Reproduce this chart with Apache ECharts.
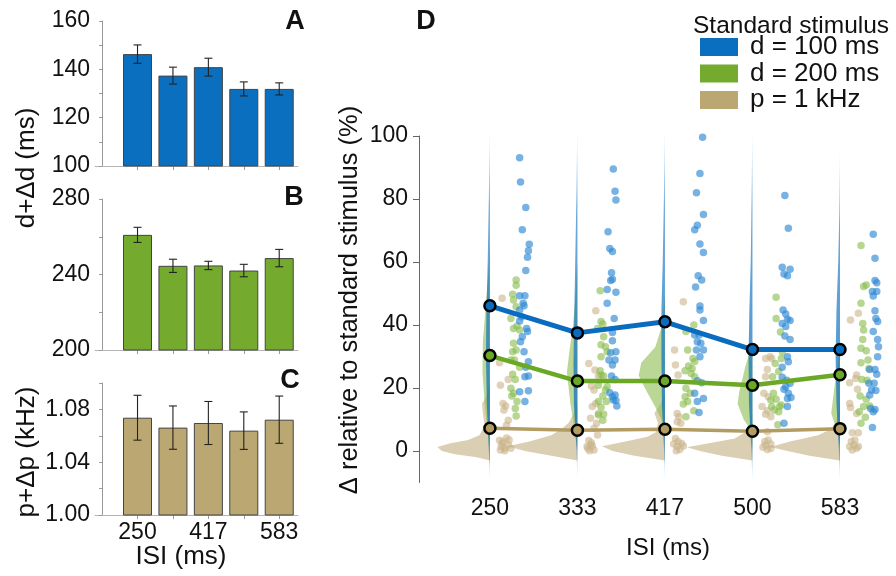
<!DOCTYPE html>
<html>
<head>
    <meta charset="utf-8">
    <title>ISI</title>
    <script src="https://cdn.jsdelivr.net/npm/echarts@6/dist/echarts.min.js"></script>
    <style>
        *{margin:0;padding:0}
        #main { width: 896px; height: 576px; background: #fff; }
    </style>
</head>
<body>
<div id="main"></div>
<script type="text/javascript">
    // ISI conditions
    var isi = ['250', '333', '417', '500', '583'];
    var pos = [1, 2, 3, 4, 5];

    // panels A-C: mean +/- error
    var durA = [146.3, 137.4, 140.9, 131.9, 131.9];
    var errA = [3.8, 3.5, 3.7, 2.9, 2.5];
    var durB = [261.0, 244.6, 244.8, 242.1, 248.7];
    var errB = [4.0, 3.5, 2.2, 3.3, 4.6];
    var pitchC = [1.0737, 1.0662, 1.0697, 1.0639, 1.0722];
    var errC = [0.017, 0.0164, 0.0163, 0.0142, 0.0179];

    // panel D: means (%)
    var meanBlue = [46.1, 37.5, 41.0, 32.2, 32.2];
    var meanGreen = [30.3, 22.2, 22.2, 20.9, 24.2];
    var meanTan = [7.2, 6.6, 6.9, 6.3, 7.1];

    // half-violin profiles [value, half width] per ISI
    var violinBlue = [
        [[-10,0],[0,0.012],[15,0.035],[30,0.045],[45,0.04],[60,0.025],[80,0.012],[100,0.004]],
        [[-10,0],[0,0.01],[15,0.04],[28,0.045],[45,0.035],[60,0.025],[80,0.012],[100,0.004]],
        [[-10,0],[0,0.01],[15,0.035],[30,0.04],[45,0.04],[60,0.025],[80,0.012],[100,0.004]],
        [[-10,0],[0,0.012],[15,0.04],[30,0.045],[45,0.035],[60,0.02],[80,0.01],[100,0.003]],
        [[-10,0],[0,0.012],[15,0.04],[30,0.05],[45,0.04],[60,0.02],[75,0.008],[95,0.002]]
    ];
    var violinGreen = [
        [[-5,0],[5,0.02],[15,0.06],[25,0.085],[35,0.08],[45,0.05],[55,0.02],[65,0]],
        [[0,0],[8,0.04],[15,0.08],[25,0.12],[32,0.09],[40,0.05],[50,0.02],[60,0]],
        [[5,0],[10,0.04],[14,0.11],[19,0.21],[24,0.3],[28,0.27],[33,0.11],[40,0.03],[50,0]],
        [[0,0],[6.7,0.02],[10,0.1],[15,0.17],[19,0.15],[27,0.08],[34,0]],
        [[2,0],[6.7,0.04],[12,0.1],[21,0.06],[33,0]]
    ];
    var violinTan = [
        [[-3,0],[-2,0.15],[-1,0.4],[0,0.55],[1.3,0.6],[2.5,0.45],[3.5,0.25],[5,0.12],[8,0.06],[12,0.08],[15,0.09],[18,0.03],[22,0]],
        [[-3,0],[-1.5,0.3],[0,0.6],[1.5,0.8],[3,0.55],[5,0.3],[7,0.18],[9,0.1],[12,0.04],[15,0]],
        [[-3,0],[-1.5,0.35],[0,0.6],[1.5,0.72],[3,0.45],[4.5,0.2],[6,0.1],[9,0.08],[12,0.12],[15,0.05],[18,0]],
        [[-3,0],[-1.5,0.35],[0,0.6],[1.2,0.75],[2.5,0.5],[4,0.2],[6,0.08],[9,0.03],[12,0]],
        [[-3,0],[-1.5,0.35],[0,0.6],[1.3,0.8],[3,0.57],[5,0.25],[7,0.1],[9,0.05],[12,0.02],[15,0]]
    ];

    // individual subjects [jitter, value] per ISI
    var ptsBlue = [
        [[.34,93.1],[.35,85.4],[.41,77.3],[.37,70.2],[.45,65.6],[.44,63.6],[.43,61.5],[.41,57.3],[.34,49.3],[.40,49.3],[.38,46.9],[.39,46.1],[.34,44.8],[.36,42.6],[.34,41.3],[.42,38.9],[.43,37.9],[.37,36.3],[.35,34.7],[.39,31.5],[.44,28.3],[.41,26.6],[.44,23.8],[.40,23.6],[.34,18.8],[.44,19.1],[.40,15.7]],
        [[.41,89.5],[.43,82.5],[.44,79.7],[.35,69.6],[.37,64.3],[.40,63.3],[.39,56.6],[.38,54.1],[.40,54.5],[.34,51.3],[.44,50.4],[.34,46.9],[.42,42.1],[.40,37.6],[.40,35.0],[.44,31.5],[.38,31.2],[.43,28.9],[.36,28.9],[.40,27.3],[.39,23.8],[.43,22.7],[.37,18.5],[.43,17.8],[.41,16.2],[.44,16.0],[.45,14.3],[.40,17.2]],
        [[.43,99.6],[.40,88.1],[.36,82.0],[.44,75.1],[.37,71.7],[.34,70.2],[.40,65.7],[.44,63.0],[.38,55.6],[.42,54.3],[.35,52.1],[.40,46.0],[.40,44.8],[.44,41.4],[.34,36.8],[.39,36.8],[.37,34.7],[.41,34.2],[.44,32.1],[.36,32.1],[.40,29.9],[.37,22.3],[.42,21.7],[.34,18.3],[.44,16.7],[.37,15.7],[.39,12.2]],
        [[.37,81.1],[.41,70.7],[.34,58.3],[.43,57.7],[.36,56.2],[.40,55.6],[.35,44.8],[.38,43.5],[.40,41.8],[.43,41.4],[.34,40.5],[.38,39.5],[.37,36.5],[.43,35.4],[.40,29.9],[.41,28.3],[.34,23.4],[.39,22.5],[.43,21.5],[.36,19.6],[.41,18.3],[.44,17.0],[.40,14.1],[.36,8.8],[.34,26.6],[.38,20.4],[.40,16.7]],
        [[.38,68.8],[.40,61.2],[.40,54.1],[.42,53.4],[.37,50.6],[.38,49.2],[.42,50.6],[.40,44.5],[.41,42.1],[.43,41.1],[.38,37.9],[.43,35.4],[.44,33.1],[.43,29.9],[.34,25.9],[.40,25.9],[.42,24.4],[.39,21.5],[.36,19.4],[.41,19.2],[.34,17.8],[.40,13.2],[.35,13.5],[.38,12.5],[.37,7.5],[.33,21.5]]
    ];
    var ptsGreen = [
        [[.30,54.3],[.30,52.6],[.26,49.8],[.27,47.9],[.30,45.8],[.24,42.1],[.27,38.9],[.34,38.4],[.31,39.7],[.27,34.2],[.26,31.5],[.30,32.1],[.24,28.9],[.28,28.9],[.34,26.6],[.26,24.4],[.29,22.7],[.24,19.9],[.27,18.3],[.25,17.5],[.31,15.7],[.29,13.5],[.30,11.1]],
        [[.26,50.9],[.27,41.1],[.29,40.3],[.23,38.9],[.30,36.3],[.27,33.7],[.32,33.1],[.34,31.5],[.27,29.9],[.26,25.5],[.30,23.8],[.24,20.9],[.34,20.4],[.32,19.4],[.29,17.5],[.24,15.7],[.33,15.7],[.27,13.9],[.30,11.7],[.24,11.4],[.29,9.8],[.27,24.1]],
        [[.33,40.0],[.24,37.9],[.26,32.1],[.32,29.4],[.34,28.4],[.27,27.0],[.31,26.2],[.23,25.5],[.34,23.6],[.24,19.9],[.29,18.3],[.23,17.2],[.26,15.7],[.33,12.8],[.24,10.9],[.21,14.9],[.30,24.6]],
        [[.27,48.8],[.27,42.1],[.32,37.8],[.34,31.5],[.33,29.4],[.26,27.8],[.23,23.6],[.30,25.2],[.24,18.3],[.27,16.4],[.33,14.6],[.22,14.1],[.30,12.5],[.25,13.0],[.31,14.1],[.29,8.3],[.21,16.2]],
        [[.24,65.2],[.27,52.2],[.30,52.7],[.24,46.9],[.26,40.5],[.27,38.4],[.26,35.4],[.24,32.6],[.30,31.8],[.32,28.9],[.24,28.0],[.33,26.2],[.25,22.7],[.31,22.5],[.23,17.5],[.30,16.4],[.27,14.1],[.22,12.5],[.29,10.7],[.24,8.8],[.34,14.3]]
    ];
    var ptsTan = [
        [[.14,48.5],[.11,28.0],[.12,20.9],[.21,22.7],[.15,15.1],[.18,14.3],[.16,13.0],[.21,9.8],[.19,8.2],[.11,3.4],[.15,3.0],[.19,4.1],[.22,3.5],[.13,1.4],[.17,0.9],[.21,1.9],[.12,0.3],[.17,0.1],[.24,0.9],[.14,2.4]],
        [[.21,44.5],[.13,27.8],[.20,25.7],[.24,23.8],[.16,20.6],[.19,19.4],[.21,15.1],[.17,14.1],[.24,11.9],[.15,10.4],[.22,8.8],[.19,7.2],[.23,5.1],[.13,3.3],[.16,2.6],[.11,1.4],[.17,1.6],[.14,0.1],[.12,0.8],[.19,0.3],[.15,1.9]],
        [[.21,47.4],[.11,32.1],[.12,27.3],[.15,24.1],[.14,11.9],[.16,10.9],[.14,9.3],[.18,8.8],[.12,4.0],[.15,3.0],[.19,2.4],[.14,1.4],[.17,0.5],[.13,0.1],[.21,1.6],[.10,2.2]],
        [[.15,29.4],[.22,29.4],[.20,29.9],[.17,25.9],[.15,23.6],[.13,18.3],[.18,17.2],[.11,14.1],[.17,12.8],[.15,11.7],[.21,10.9],[.17,6.1],[.14,3.0],[.18,3.5],[.21,2.2],[.12,1.2],[.17,0.5],[.21,0.8],[.15,1.9]],
        [[.12,41.6],[.21,43.7],[.19,24.1],[.18,23.0],[.11,21.7],[.20,19.6],[.11,15.1],[.12,13.8],[.19,11.9],[.14,5.8],[.21,5.8],[.13,3.0],[.16,1.9],[.19,0.9],[.14,0.3],[.17,3.5],[.21,1.4],[.11,1.4]]
    ];

    var names = ['d = 100 ms', 'd = 200 ms', 'p = 1 kHz'];
    var cBlue = '#0b6fc0', cGreen = '#74aa2e', cTan = '#bba772';
    var font = 'Liberation Sans, Arial, sans-serif';

    var myChart = echarts.init(document.getElementById('main'));

    function pairs(vals) {
        return pos.map(function (p, i) { return [p, vals[i]]; });
    }

    // error bars drawn through the axis scale
    function errSeries(idx, vals, errs) {
        return {
            type: 'custom', xAxisIndex: idx, yAxisIndex: idx, z: 5,
            data: pairs(vals),
            renderItem: function (params, api) {
                var x = api.value(0), y = api.value(1), e = errs[params.dataIndex];
                var t = api.coord([x, y + e]), b = api.coord([x, y - e]);
                var st = { stroke: '#222', lineWidth: 1.1 };
                return {
                    type: 'group', children: [
                        { type: 'line', shape: { x1: t[0], y1: t[1], x2: b[0], y2: b[1] }, style: st },
                        { type: 'line', shape: { x1: t[0] - 4, y1: t[1], x2: t[0] + 4, y2: t[1] }, style: st },
                        { type: 'line', shape: { x1: b[0] - 4, y1: b[1], x2: b[0] + 4, y2: b[1] }, style: st }
                    ]
                };
            }
        };
    }

    function barSeries(idx, name, vals, color) {
        return {
            name: name, type: 'bar', xAxisIndex: idx, yAxisIndex: idx,
            data: pairs(vals), barWidth: 29,
            itemStyle: { color: color, borderColor: '#444', borderWidth: 1 }
        };
    }

    // half violins to the left of each ISI
    function violinSeries(prof, color, opacity, z, grad) {
        return {
            type: 'custom', xAxisIndex: 3, yAxisIndex: 3, z: z, silent: true,
            data: pos.map(function (p) { return [p]; }),
            encode: { x: 0 },
            renderItem: function (params, api) {
                var p = api.value(0);
                var pr = prof[params.dataIndex];
                var pts = pr.map(function (d) { return api.coord([p - d[1], d[0]]); });
                pts.push(api.coord([p, pr[pr.length - 1][0]]));
                pts.push(api.coord([p, pr[0][0]]));
                var fill = color;
                if (grad) {
                    fill = new echarts.graphic.LinearGradient(0, 0, 0, 1, [
                        { offset: 0, color: 'rgba(11,111,192,0.05)' },
                        { offset: 0.2, color: 'rgba(11,111,192,0.6)' },
                        { offset: 0.85, color: 'rgba(11,111,192,0.75)' },
                        { offset: 1, color: 'rgba(11,111,192,0.05)' }
                    ]);
                }
                return { type: 'polygon', shape: { points: pts }, style: { fill: fill, opacity: opacity } };
            }
        };
    }

    function scatterSeries(pts, color, opacity) {
        var data = [];
        pts.forEach(function (grp, i) {
            grp.forEach(function (d) { data.push([pos[i] + d[0], d[1]]); });
        });
        return {
            type: 'scatter', xAxisIndex: 3, yAxisIndex: 3, z: 3, silent: true,
            data: data, symbolSize: 7.5,
            itemStyle: { color: color, opacity: opacity }
        };
    }

    function meanSeries(vals, color, width) {
        return {
            type: 'line', xAxisIndex: 3, yAxisIndex: 3, z: 6,
            data: pairs(vals),
            symbol: 'circle', symbolSize: 11,
            lineStyle: { color: color, width: width },
            itemStyle: { color: color, borderColor: '#000', borderWidth: 2.5 }
        };
    }

    var smallX = function (idx, labels) {
        return {
            type: 'value', gridIndex: idx, min: -0.2, max: 5.53,
            splitLine: { show: false },
            axisLine: { lineStyle: { color: '#b5b5b5' } },
            axisTick: { customValues: pos, length: 4, lineStyle: { color: '#999' } },
            axisLabel: labels ? {
                customValues: [1, 3, 5], fontSize: 23, color: '#111', fontFamily: font, margin: 6,
                formatter: function (v) { return isi[Math.round(v) - 1]; }
            } : { show: false }
        };
    };
    var smallY = function (idx, min, max, step, every, dec) {
        return {
            type: 'value', gridIndex: idx, min: min, max: max, interval: step,
            splitLine: { show: false },
            axisLine: { show: true, lineStyle: { color: '#999' } },
            axisTick: { show: true, length: 3, lineStyle: { color: '#999' } },
            axisLabel: {
                fontSize: 23, color: '#111', fontFamily: font, margin: 5,
                formatter: function (v) {
                    var k = Math.round((v - min) / step);
                    return k % every === 0 ? v.toFixed(dec) : '';
                }
            }
        };
    };

    function txt(x, y, s, size, opts) {
        opts = opts || {};
        return {
            type: 'text', x: x, y: y, rotation: opts.rot || 0,
            style: {
                text: s, fontSize: size, fontFamily: font, fill: '#111',
                fontWeight: opts.bold ? 'bold' : 'normal',
                align: 'center', verticalAlign: 'middle'
            }
        };
    }

    var option = {
        animation: false,
        textStyle: { fontFamily: font },
        grid: [
            { left: 95, top: 21, width: 203, height: 145 },
            { left: 95, top: 199, width: 203, height: 151 },
            { left: 95, top: 383, width: 203, height: 132 },
            { left: 419, top: 136, width: 477, height: 346.5 }
        ],
        xAxis: [
            smallX(0, false), smallX(1, false), smallX(2, true),
            {
                type: 'value', gridIndex: 3, min: 0.19, max: 5.64,
                splitLine: { show: false }, axisLine: { show: false }, axisTick: { show: false },
                axisLabel: {
                    customValues: pos, fontSize: 23, color: '#111', fontFamily: font, margin: 15,
                    formatter: function (v) { return isi[Math.round(v) - 1]; }
                }
            }
        ],
        yAxis: [
            smallY(0, 100, 160, 10, 2, 0),
            smallY(1, 200, 280, 20, 2, 0),
            smallY(2, 1.00, 1.10, 0.02, 2, 2),
            {
                type: 'value', gridIndex: 3, min: -10, max: 100,
                splitLine: { show: false },
                axisLine: { show: true, lineStyle: { color: '#666' } },
                axisTick: { show: true, customValues: [0, 20, 40, 60, 80, 100], length: 6, lineStyle: { color: '#666' } },
                axisLabel: { customValues: [0, 20, 40, 60, 80, 100], fontSize: 23, color: '#111', fontFamily: font, margin: 11 }
            }
        ],
        title: {
            text: 'Standard stimulus', left: 688, top: 9,
            textStyle: { fontSize: 24.5, fontWeight: 'normal', color: '#111', fontFamily: font }
        },
        legend: {
            left: 700, top: 34, orient: 'vertical', selectedMode: false,
            itemWidth: 38, itemHeight: 18, itemGap: 0.5, padding: 0,
            textStyle: { fontSize: 26, color: '#111', fontFamily: font, lineHeight: 24, padding: [0, 0, 0, 7] },
            data: [
                { name: names[0], icon: 'rect', itemStyle: { color: cBlue, borderWidth: 0 } },
                { name: names[1], icon: 'rect', itemStyle: { color: cGreen, borderWidth: 0 } },
                { name: names[2], icon: 'rect', itemStyle: { color: cTan, borderWidth: 0 } }
            ]
        },
        graphic: [
            txt(295, 22, 'A', 27, { bold: true }),
            txt(294, 198, 'B', 27, { bold: true }),
            txt(290, 381, 'C', 27, { bold: true }),
            txt(426, 22, 'D', 27, { bold: true }),
            txt(27, 168, 'd+Δd (ms)', 26, { rot: Math.PI / 2 }),
            txt(27, 452, 'p+Δp (kHz)', 26, { rot: Math.PI / 2 }),
            txt(181, 557, 'ISI (ms)', 26),
            txt(350, 300, 'Δ relative to standard stimulus (%)', 25.5, { rot: Math.PI / 2 }),
            txt(668, 548, 'ISI (ms)', 24)
        ],
        series: [
            barSeries(0, names[0], durA, cBlue), errSeries(0, durA, errA),
            barSeries(1, names[1], durB, cGreen), errSeries(1, durB, errB),
            barSeries(2, names[2], pitchC, cTan), errSeries(2, pitchC, errC),
            violinSeries(violinTan, cTan, 0.55, 1),
            violinSeries(violinGreen, '#8cbd50', 0.6, 2),
            violinSeries(violinBlue, cBlue, 1, 2, true),
            scatterSeries(ptsTan, '#c9b48a', 0.6),
            scatterSeries(ptsGreen, '#86bb4a', 0.6),
            scatterSeries(ptsBlue, '#2f89d4', 0.65),
            meanSeries(meanTan, '#b39c62', 3.5),
            meanSeries(meanGreen, '#6aa826', 4.5),
            meanSeries(meanBlue, '#0a6cbf', 5)
        ]
    };

    myChart.setOption(option);
</script>
</body>
</html>
